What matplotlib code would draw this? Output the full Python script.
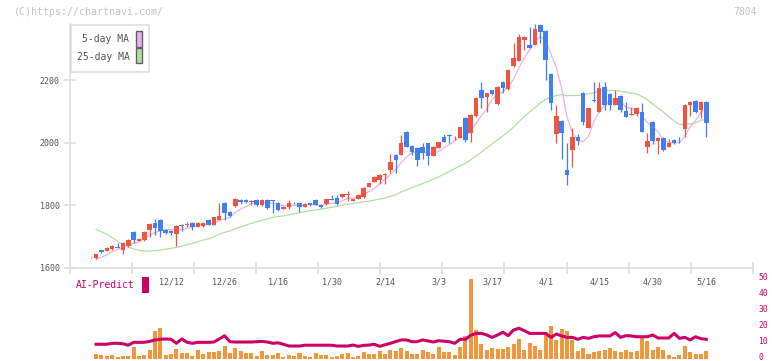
import numpy as np
import pandas as pd
import matplotlib
matplotlib.use("Agg")
import matplotlib.pyplot as plt
from matplotlib.patches import Rectangle
from matplotlib.transforms import ScaledTranslation

W, H = 772, 361

# daily candles (first one is 11/21, last one 5/16)
opens = [1634, 1632, 1658, 1655, 1661, 1665, 1658, 1670, 1715, 1687,
         1689, 1722, 1745, 1754, 1722, 1719, 1709, 1736, 1738, 1743,
         1732, 1733, 1752, 1739, 1754, 1809, 1780, 1798, 1818, 1818,
         1812, 1818, 1800, 1818, 1815, 1809, 1790, 1796, 1808, 1807,
         1796, 1807, 1818, 1802, 1805, 1820, 1824, 1826, 1833, 1815,
         1822, 1826, 1860, 1876, 1882, 1898, 1914, 1962, 1962, 2035,
         1990, 1984, 1986, 1999, 1959, 1985, 2020, 2026, 2018, 2017,
         2081, 2031, 2086, 2168, 2146, 2168, 2125, 2196, 2173, 2246,
         2263, 2328, 2314, 2314, 2378, 2359, 2221, 2029, 2071, 1914,
         1979, 2020, 2161, 2049, 2137, 2100, 2178, 2157, 2122, 2150,
         2102, 2090, 2092, 2100, 1988, 2067, 2005, 2017, 1988, 2010,
         2010, 2045, 2122, 2134, 2106, 2131]
highs = [1635, 1646, 1659, 1667, 1675, 1681, 1683, 1692, 1718, 1694,
         1717, 1743, 1757, 1756, 1724, 1721, 1738, 1742, 1746, 1746,
         1748, 1746, 1756, 1764, 1809, 1812, 1782, 1823, 1820, 1822,
         1816, 1820, 1820, 1820, 1817, 1811, 1797, 1818, 1810, 1809,
         1808, 1809, 1820, 1804, 1822, 1832, 1834, 1838, 1845, 1822,
         1836, 1858, 1873, 1894, 1900, 1903, 1966, 1964, 2026, 2037,
         1992, 1986, 1999, 2001, 1990, 2004, 2030, 2028, 2022, 2052,
         2083, 2092, 2147, 2196, 2161, 2170, 2182, 2198, 2236, 2319,
         2349, 2342, 2370, 2381, 2381, 2361, 2223, 2122, 2073, 2001,
         2047, 2030, 2163, 2113, 2194, 2194, 2194, 2159, 2170, 2152,
         2132, 2114, 2115, 2129, 2031, 2069, 2019, 2019, 2012, 2012,
         2020, 2124, 2133, 2136, 2134, 2133]
lows = [1633, 1628, 1647, 1653, 1659, 1663, 1645, 1668, 1679, 1685,
        1687, 1700, 1707, 1700, 1710, 1704, 1671, 1718, 1730, 1722,
        1730, 1731, 1736, 1737, 1752, 1754, 1764, 1796, 1806, 1809,
        1800, 1798, 1798, 1789, 1777, 1782, 1788, 1790, 1805, 1778,
        1794, 1798, 1800, 1793, 1803, 1817, 1803, 1824, 1815, 1813,
        1820, 1824, 1858, 1874, 1870, 1869, 1905, 1905, 1960, 1986,
        1962, 1927, 1950, 1930, 1957, 1983, 2002, 2001, 2008, 2015,
        2004, 2004, 2084, 2113, 2100, 2155, 2123, 2159, 2171, 2244,
        2261, 2298, 2303, 2312, 2319, 2200, 2105, 1999, 1948, 1866,
        1924, 1995, 2058, 2047, 2132, 2098, 2106, 2104, 2120, 2100,
        2082, 2088, 2085, 2034, 1967, 1998, 1965, 1975, 1986, 1997,
        2000, 2018, 2086, 2096, 2080, 2020]
closes = [1634, 1645, 1651, 1664, 1670, 1664, 1681, 1690, 1690, 1692,
          1715, 1741, 1729, 1719, 1712, 1712, 1734, 1734, 1742, 1732,
          1743, 1744, 1738, 1762, 1766, 1777, 1766, 1821, 1811, 1811,
          1815, 1800, 1818, 1791, 1814, 1784, 1795, 1807, 1807, 1796,
          1806, 1800, 1802, 1795, 1820, 1819, 1805, 1836, 1838, 1820,
          1834, 1856, 1871, 1892, 1898, 1901, 1940, 1946, 2001, 1988,
          1972, 1946, 1969, 1959, 1988, 2002, 2004, 2022, 2020, 2050,
          2010, 2090, 2145, 2144, 2159, 2157, 2180, 2175, 2234, 2273,
          2340, 2340, 2305, 2365, 2356, 2266, 2129, 2086, 2031, 1898,
          2020, 2007, 2068, 2111, 2134, 2177, 2120, 2122, 2143, 2104,
          2084, 2094, 2111, 2036, 2006, 2007, 2017, 1978, 2001, 1999,
          2008, 2122, 2131, 2098, 2132, 2065]

# moving averages at the left edge (window reaches before the chart)
ma5_head = [1628, 1634, 1642]
ma25_head = [1724, 1716, 1708, 1697, 1686, 1675, 1667, 1661, 1657, 1654,
             1654, 1655, 1657, 1660, 1663, 1666, 1670, 1675, 1679, 1684,
             1689, 1694, 1699]

# AI-Predict panel, from the 2nd candle on
ai_bars = [2.8, 2.2, 1.6, 2.2, 1.0, 1.6, 1.6, 7.2, 1.6, 2.2,
           5.3, 17.2, 19.1, 2.2, 2.8, 5.9, 3.4, 3.4, 1.6, 5.3,
           2.8, 4.1, 4.1, 4.7, 7.8, 3.4, 6.6, 4.7, 3.4, 3.4,
           1.6, 4.7, 2.2, 2.2, 3.4, 1.0, 2.2, 1.6, 3.4, 1.6,
           1.0, 3.4, 2.2, 2.2, 1.0, 1.6, 2.8, 3.4, 1.0, 1.6,
           4.1, 2.6, 2.6, 4.7, 2.8, 5.3, 5.0, 6.6, 4.7, 2.8,
           2.8, 5.3, 4.1, 2.8, 7.2, 4.1, 4.1, 2.2, 7.2, 14.1,
           49.7, 17.8, 9.1, 5.3, 6.6, 5.9, 5.9, 7.2, 9.1, 12.2,
           5.3, 9.7, 7.8, 5.3, 14.7, 20.3, 11.6, 18.4, 17.2, 11.6,
           4.7, 6.6, 2.8, 4.1, 4.7, 5.3, 6.6, 4.7, 4.1, 5.3,
           4.1, 4.7, 13.6, 10.9, 5.3, 7.2, 5.3, 2.2, 0.9, 2.2,
           7.8, 4.1, 2.8, 2.8, 4.7]
ai_line = [8.9, 8.9, 8.9, 9.5, 9.5, 9.2, 8.3, 10.1, 10.1, 10.1,
           10.7, 11.6, 12.0, 12.2, 12.0, 9.5, 12.2, 10.1, 9.5, 10.1,
           10.1, 10.1, 10.3, 12.2, 14.2, 10.5, 10.3, 10.3, 10.3, 10.3,
           10.5, 10.7, 10.3, 9.5, 9.8, 8.9, 7.8, 7.8, 7.8, 8.3,
           8.3, 8.3, 8.3, 8.3, 8.3, 7.8, 7.8, 7.8, 8.4, 7.6,
           8.2, 8.4, 8.9, 7.6, 8.6, 9.5, 10.6, 11.6, 11.6, 10.5,
           10.5, 11.6, 11.0, 10.3, 11.1, 10.8, 10.5, 9.5, 12.0, 12.0,
           14.5, 15.7, 15.7, 14.7, 13.2, 14.7, 16.4, 14.3, 17.8, 18.9,
           17.4, 15.7, 15.7, 15.7, 15.7, 13.2, 15.3, 14.1, 13.2, 13.2,
           12.0, 13.2, 12.6, 13.6, 14.1, 14.1, 14.1, 16.2, 13.2, 14.3,
           14.1, 13.6, 13.6, 13.6, 14.7, 12.8, 12.8, 12.8, 15.7, 12.6,
           13.2, 11.6, 13.6, 12.4, 12.0]

date_labels = ["12/12", "12/26", "1/16", "1/30", "2/14", "3/3",
               "3/17", "4/1", "4/15", "4/30", "5/16"]
date_index = [15, 25, 35, 45, 55, 65, 75, 85, 95, 105, 115]
price_ticks = [1600, 1800, 2000, 2200]
ai_ticks = [0, 10, 20, 30, 40, 50]

RED = "#f25240"
BLUE = "#3f7ff0"
PINK = "#e9b3ea"
GREEN = "#b5dda3"
MAGENTA = "#cc0066"
ORANGE = "#f2963e"
GRID = "#dddddd"
TXT = "#555555"
MONO = "DejaVu Sans Mono"

o = np.array(opens, float)
h = np.array(highs, float)
l = np.array(lows, float)
c = np.array(closes, float)
n = len(c)
idx = np.arange(n)

ma5 = pd.Series(c).rolling(5).mean().to_numpy()
ma5[1:1 + len(ma5_head)] = ma5_head
ma25 = pd.Series(c).rolling(25).mean().to_numpy()
ma25[1:1 + len(ma25_head)] = ma25_head

XLIM = (-3.88, 123.68)


def fig_box(x0, y0, x1, y1):
    # pixel box (top-left origin) -> figure fraction rect
    return [x0 / W, 1 - y1 / H, (x1 - x0) / W, (y1 - y0) / H]


fig = plt.figure(figsize=(W / 100, H / 100), dpi=100)

# ---- price panel
ax = fig.add_axes(fig_box(70, 24, 752.7, 268))
ax.set_xlim(*XLIM)
ax.set_ylim(1600, 1600 + 244 * 3.2)

up = c >= o
col = np.where(up, RED, BLUE)
ax.vlines(idx, l, h, colors=col, lw=0.9, zorder=3, clip_on=False)
body_lo = np.minimum(o, c)
body_h = np.maximum(np.abs(c - o), 2.5)
ax.bar(idx, body_h, bottom=body_lo, width=0.85, color=col, lw=0, zorder=4, clip_on=False)

ax.plot(idx[1:], ma25[1:], color=GREEN, lw=0.9, zorder=2)
ax.plot(idx[1:], ma5[1:], color=PINK, lw=0.9, zorder=2)

for s in ["top", "right"]:
    ax.spines[s].set_visible(False)
for s in ["left", "bottom"]:
    ax.spines[s].set_color(GRID)
    ax.spines[s].set_linewidth(1.2)

ax.set_yticks(price_ticks)
ax.set_yticklabels([str(v) for v in price_ticks], fontfamily=MONO, fontsize=6, color=TXT)
ax.tick_params(axis="y", direction="inout", length=9, width=1.2, color=GRID, pad=3)

ax.set_xticks(np.linspace(XLIM[0], XLIM[1], 12))
ax.set_xticklabels([])
ax.tick_params(axis="x", which="major", direction="inout", length=8, width=1.2, color=GRID)
ax.set_xticks(date_index, minor=True)
ax.set_xticklabels(date_labels, minor=True, fontfamily=MONO, fontsize=6, color=TXT)
ax.tick_params(axis="x", which="minor", length=0, pad=7)

# ---- AI-Predict panel
ax2 = fig.add_axes(fig_box(70, 270, 752.7, 358.5))
ax2.set_xlim(*XLIM)
ax2.set_ylim(0, 88.5 / 1.6)
ax2.bar(idx[1:], ai_bars, width=0.75, color=ORANGE, lw=0, zorder=2)
ax2.plot(idx[1:], ai_line, color=MAGENTA, lw=2.2, zorder=3)
for s in ax2.spines.values():
    s.set_visible(False)
ax2.set_xticks([])
ax2.yaxis.tick_right()
ax2.set_yticks(ai_ticks)
ax2.set_yticklabels([str(v) for v in ai_ticks], fontfamily=MONO, fontsize=5.8, color=MAGENTA)
ax2.tick_params(axis="y", length=0, pad=4)
ax2.patch.set_alpha(0)
# nudge the right-hand labels up a little so "0" stays inside the picture
lift = ScaledTranslation(0, 2.5 / 100, fig.dpi_scale_trans)
for lbl in ax2.get_yticklabels():
    lbl.set_transform(lbl.get_transform() + lift)

# ---- legend box
fig.add_artist(Rectangle((70.5 / W, 1 - 71.5 / H), 78 / W, 47 / H, transform=fig.transFigure,
                         fc="white", ec=GRID, lw=1.2, zorder=10))
fig.add_artist(Rectangle((136.3 / W, 1 - 46.5 / H), 6 / W, 15 / H, transform=fig.transFigure,
                         fc=PINK, ec="#606060", lw=1, zorder=11))
fig.add_artist(Rectangle((136.3 / W, 1 - 63 / H), 6 / W, 15 / H, transform=fig.transFigure,
                         fc=GREEN, ec="#606060", lw=1, zorder=11))
fig.text(129.5 / W, 1 - 39.5 / H, "5-day MA", ha="right", va="center",
         fontfamily=MONO, fontsize=7, color=TXT, zorder=12)
fig.text(129.5 / W, 1 - 56.5 / H, "25-day MA", ha="right", va="center",
         fontfamily=MONO, fontsize=7, color=TXT, zorder=12)

# ---- AI-Predict label
fig.text(75.5 / W, 1 - 285.5 / H, "AI-Predict", ha="left", va="center",
         fontfamily=MONO, fontsize=7, color=MAGENTA)
fig.add_artist(Rectangle((142 / W, 1 - 292.7 / H), 7 / W, 16 / H, transform=fig.transFigure,
                         fc=MAGENTA, ec="none"))

# ---- header
fig.text(14 / W, 1 - 12 / H, "(C)https://chartnavi.com/", ha="left", va="center",
         fontfamily=MONO, fontsize=7.2, color="#c4c4c4")
fig.text(757 / W, 1 - 12 / H, "7804", ha="right", va="center",
         fontfamily=MONO, fontsize=7, color="#c4c4c4")

fig.savefig("out.png", dpi=100, facecolor="white")
